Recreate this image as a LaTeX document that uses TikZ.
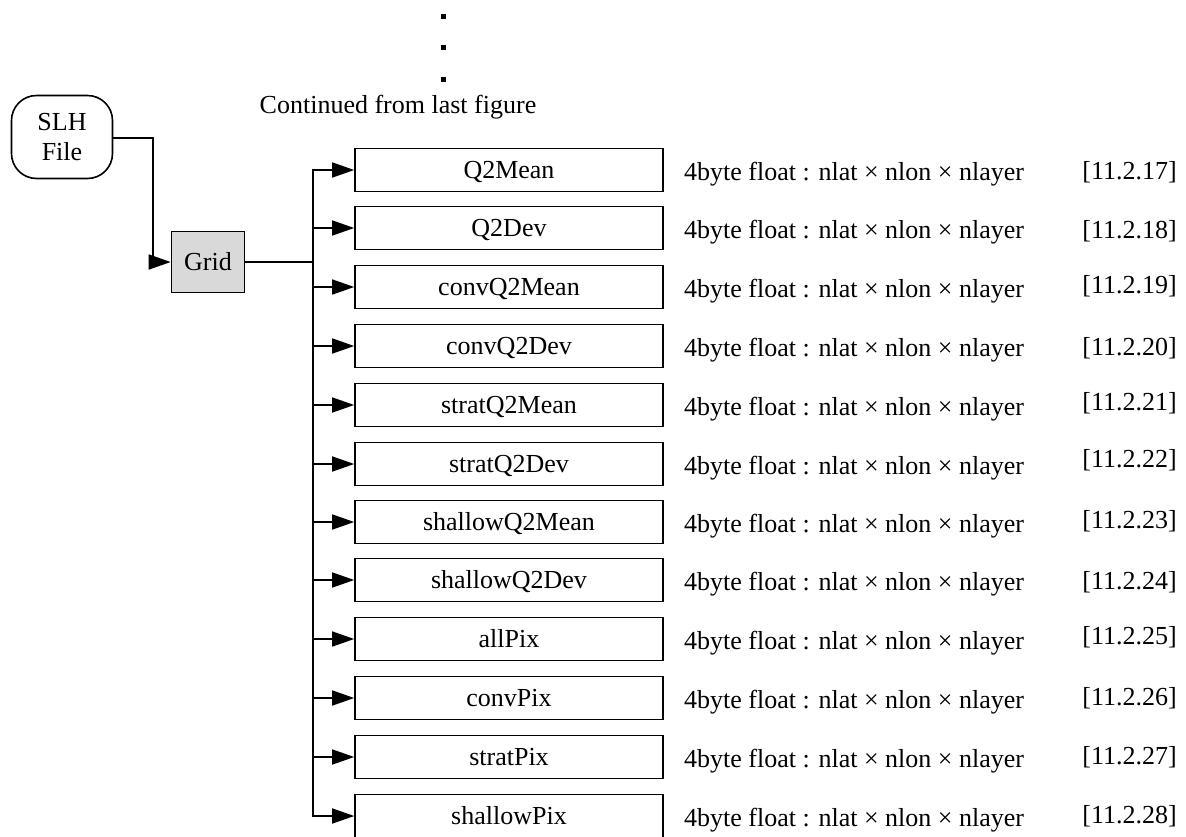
\documentclass[tikz,border=0pt]{standalone}
\usepackage{fontspec}
\setmainfont{Liberation Serif}
\usetikzlibrary{arrows.meta}
\begin{document}
\begin{tikzpicture}[x=1pt,y=-1pt,
  every node/.style={font=\fontsize{26}{30}\selectfont},
  boxline/.style={draw, line width=1.6pt},
  itembox/.style={boxline, minimum width=308pt, minimum height=43pt, inner sep=0pt, text height=16pt, text depth=0pt},
  txt/.style={inner sep=0pt},
  conn/.style={line width=1.6pt},
  arr/.style={conn, -{Triangle[length=22pt,width=15pt]}},
  trunk/.style={line width=2.6pt},
  dot/.style={fill=black, minimum size=5pt, inner sep=0pt},
]
\useasboundingbox (0,0) rectangle (1186,836);

% continuation dots and caption
\node[dot] (d1) at (443,16) {};
\node[dot] (d2) at (443,47) {};
\node[dot] (d3) at (443,79) {};
\node[txt, anchor=base] (cont) at (398,113) {Continued from last figure};

% source and grid
\node[boxline, rounded corners=25pt, minimum width=101pt, minimum height=83pt, align=center, inner sep=0pt] (slh) at (62,137) {SLH\\File};
\node[boxline, fill=gray!30, minimum width=73pt, minimum height=61pt, text height=16pt, text depth=0pt, inner sep=0pt] (grid) at (208,262) {Grid};
\coordinate (bend) at (153,138);
\draw[arr] (slh.east |- bend) -- (bend) |- (grid.west);

\coordinate (j) at (313,262);
\draw[trunk] (grid.east) -- (j);

\foreach \n/\t/\y/\r/\ry in {
  1/Q2Mean/170/17/170,
  2/Q2Dev/228/18/229,
  3/convQ2Mean/287/19/284,
  4/convQ2Dev/346/20/346,
  5/stratQ2Mean/405/21/401,
  6/stratQ2Dev/464/22/458,
  7/shallowQ2Mean/522/23/519,
  8/shallowQ2Dev/580/24/580,
  9/allPix/639/25/635,
  10/convPix/698/26/696,
  11/stratPix/757/27/755,
  12/shallowPix/816/28/814}{
  \node[itembox] (b\n) at (509,\y) {\t};
  \node[txt, anchor=base west] (t\n) at (684,\y+10) {4byte float : nlat × nlon × nlayer};
  \node[txt, anchor=base east] (r\n) at (1177,\ry+9) {[11.2.\r]};
  \draw[arr] (j) |- (b\n.west);
}
\draw[trunk] (j) -- (j |- b12.west);
\draw[conn] (j) -- (j |- b1.west);
\end{tikzpicture}
\end{document}
